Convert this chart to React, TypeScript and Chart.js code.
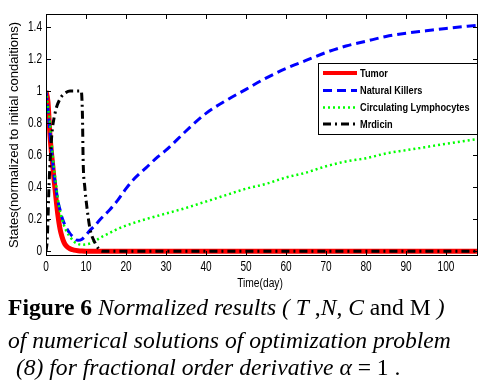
import React, { useEffect, useRef } from "react";
import { Chart, registerables } from "chart.js";

Chart.register(...registerables);

// ---- data ----
const tumorT = [0, 0.5, 1, 1.5, 2, 2.5, 3, 3.5, 4, 4.5, 5, 6, 7, 8, 9, 10, 108];
const tumorV = [1, 0.93, 0.72, 0.58, 0.45, 0.33, 0.22, 0.14, 0.09, 0.055, 0.035, 0.015, 0.007, 0.003, 0.001, 0, 0];

const nkT = [0, 0.5, 1, 1.5, 2, 2.5, 3, 3.5, 4, 5, 6, 7, 8, 9, 10, 11, 12, 14, 16, 18, 20, 22, 25, 28, 30, 35, 40, 45, 50, 55, 60, 65, 70, 75, 80, 85, 90, 95, 100, 108];
const nkV = [1, 0.88, 0.74, 0.6, 0.48, 0.39, 0.31, 0.26, 0.21, 0.15, 0.11, 0.085, 0.068, 0.075, 0.1, 0.13, 0.155, 0.21, 0.26, 0.32, 0.39, 0.45, 0.52, 0.59, 0.63, 0.75, 0.86, 0.94, 1.01, 1.08, 1.14, 1.19, 1.24, 1.28, 1.31, 1.34, 1.36, 1.375, 1.39, 1.41];

const clT = [0, 0.5, 1, 1.5, 2, 2.5, 3, 3.5, 4, 5, 6, 7, 8, 9, 10, 11, 12, 14, 16, 18, 20, 25, 30, 35, 40, 45, 50, 55, 60, 65, 70, 75, 80, 85, 90, 95, 100, 108];
const clV = [1, 0.9, 0.8, 0.65, 0.52, 0.42, 0.32, 0.25, 0.2, 0.13, 0.09, 0.06, 0.045, 0.04, 0.042, 0.048, 0.06, 0.09, 0.115, 0.14, 0.16, 0.2, 0.235, 0.27, 0.31, 0.35, 0.39, 0.42, 0.46, 0.49, 0.53, 0.56, 0.58, 0.61, 0.63, 0.65, 0.67, 0.7];

const medT = [0, 0.3, 0.8, 1.4, 2.25, 3.5, 5, 6, 8, 8.8, 9.1, 9.3, 9.7, 10.2, 11, 12.3, 14, 108];
const medV = [0, 0.07, 0.44, 0.71, 0.86, 0.95, 0.99, 1, 1, 1, 0.86, 0.55, 0.4, 0.28, 0.14, 0.05, 0, 0];

const seriesLabels = ["Tumor", "Natural Killers", "Circulating Lymphocytes", "Mrdicin"];
const xTickValues = [0, 10, 20, 30, 40, 50, 60, 70, 80, 90, 100];
const yTickValues = [0, 0.2, 0.4, 0.6, 0.8, 1, 1.2, 1.4];
const xTitle = "Time(day)";
const yTitle = "States(normalized to initial condaitions)";

const SANS = "'Liberation Sans', Arial, sans-serif";

const toPts = (t: number[], v: number[]) => t.map((x, i) => ({ x, y: v[i] }));

const styles = [
  { color: "#ff0000", width: 5, dash: [] as number[] },
  { color: "#0000ff", width: 3, dash: [9, 5] },
  { color: "#00ff00", width: 2.5, dash: [2, 3] },
  { color: "#000000", width: 3, dash: [8, 4, 2, 4] },
];

function scaledText(ctx: any, text: string, x: number, y: number, sx: number, align: string) {
  ctx.save();
  ctx.translate(x, y);
  ctx.scale(sx, 1);
  ctx.textAlign = align;
  ctx.fillText(text, 0, 0);
  ctx.restore();
}

const fmtY = (v: number) => String(Number(v.toFixed(1)));

const boxPlugin = {
  id: "boxTicks",
  afterDatasetsDraw(chart: any) {
    const { ctx, chartArea: a, scales } = chart;
    const x = scales.x;
    const y = scales.y;
    ctx.save();
    ctx.strokeStyle = "#000";
    ctx.lineWidth = 1;
    ctx.setLineDash([]);
    ctx.strokeRect(a.left + 0.5, a.top + 0.5, a.right - a.left - 1, a.bottom - a.top - 1);
    const tl = 5;
    ctx.beginPath();
    xTickValues.forEach((v) => {
      const px = Math.round(x.getPixelForValue(v)) + 0.5;
      ctx.moveTo(px, a.bottom);
      ctx.lineTo(px, a.bottom - tl);
      ctx.moveTo(px, a.top);
      ctx.lineTo(px, a.top + tl);
    });
    yTickValues.forEach((v) => {
      const py = Math.round(y.getPixelForValue(v)) + 0.5;
      ctx.moveTo(a.left, py);
      ctx.lineTo(a.left + tl, py);
      ctx.moveTo(a.right, py);
      ctx.lineTo(a.right - tl, py);
    });
    ctx.stroke();

    // tick labels (narrow, as in the reference)
    ctx.fillStyle = "#000";
    ctx.font = `14px ${SANS}`;
    ctx.textBaseline = "middle";
    xTickValues.forEach((v) => {
      scaledText(ctx, String(v), x.getPixelForValue(v), a.bottom + 11, 0.72, "center");
    });
    yTickValues.forEach((v) => {
      scaledText(ctx, fmtY(v), a.left - 4, y.getPixelForValue(v), 0.72, "right");
    });
    // x title
    ctx.font = `12.5px ${SANS}`;
    scaledText(ctx, xTitle, (a.left + a.right) / 2 - 2, a.bottom + 28, 0.82, "center");
    ctx.restore();
  },
  afterDraw(chart: any) {
    const { ctx, chartArea: a } = chart;
    ctx.save();
    const bx = 318.5, by = 63.5, bw = a.right - 1 - 318, bh = 71;
    ctx.fillStyle = "#fff";
    ctx.fillRect(bx, by, bw, bh);
    ctx.strokeStyle = "#000";
    ctx.lineWidth = 1;
    ctx.setLineDash([]);
    ctx.strokeRect(bx, by, bw, bh);
    const rows = [73, 90.5, 107.5, 124];
    seriesLabels.forEach((lab, i) => {
      const s = styles[i];
      ctx.strokeStyle = s.color;
      ctx.lineWidth = s.width === 5 ? 4 : s.width;
      ctx.setLineDash(s.dash);
      ctx.beginPath();
      ctx.moveTo(323, rows[i]);
      ctx.lineTo(357, rows[i]);
      ctx.stroke();
      ctx.setLineDash([]);
      ctx.fillStyle = "#000";
      ctx.font = `bold 11.5px ${SANS}`;
      ctx.textBaseline = "middle";
      scaledText(ctx, lab, 360, rows[i] + 0.5, 0.8, "left");
    });
    ctx.restore();
  },
};

export default function App() {
  const ref = useRef<HTMLCanvasElement | null>(null);

  useEffect(() => {
    if (!ref.current) return;
    const data = [toPts(tumorT, tumorV), toPts(nkT, nkV), toPts(clT, clV), toPts(medT, medV)];
    const chart = new Chart(ref.current, {
      type: "line",
      data: {
        datasets: data.map((d, i) => ({
          label: seriesLabels[i],
          data: d,
          borderColor: styles[i].color,
          borderWidth: styles[i].width,
          borderDash: styles[i].dash,
          pointRadius: 0,
          fill: false,
          cubicInterpolationMode: "monotone" as const,
          order: 3 - i,
        })),
      },
      options: {
        animation: false,
        responsive: false,
        devicePixelRatio: 1,
        layout: { padding: { left: 0, right: 6, top: 14, bottom: 0 } },
        plugins: { legend: { display: false }, tooltip: { enabled: false } },
        scales: {
          x: {
            type: "linear",
            min: 0,
            max: 108,
            afterBuildTicks: (s: any) => {
              s.ticks = xTickValues.map((value) => ({ value }));
            },
            afterFit: (s: any) => {
              s.height = 44;
            },
            grid: { display: false, drawTicks: false },
            border: { display: false },
            ticks: { display: false },
          },
          y: {
            type: "linear",
            min: -0.03,
            max: 1.48,
            afterBuildTicks: (s: any) => {
              s.ticks = yTickValues.map((value) => ({ value }));
            },
            afterFit: (s: any) => {
              s.width = 46;
            },
            grid: { display: false, drawTicks: false },
            border: { display: false },
            ticks: { display: false },
            title: {
              display: true,
              text: yTitle,
              color: "#000",
              font: { family: SANS, size: 13 },
              padding: { top: 7, bottom: 0 },
            },
          },
        },
      },
      plugins: [boxPlugin],
    });
    return () => chart.destroy();
  }, []);

  const serif = "'Liberation Serif', 'Times New Roman', serif";
  const line: React.CSSProperties = {
    position: "absolute",
    left: 8,
    fontFamily: serif,
    fontSize: 23.6,
    lineHeight: "23px",
    whiteSpace: "pre",
    color: "#000",
  };

  return (
    <div style={{ position: "fixed", left: 0, top: 0, width: 484, height: 391, background: "#fff", overflow: "hidden" }}>
      <canvas ref={ref} width={484} height={300} style={{ display: "block", width: 484, height: 300 }} />
      <div style={{ ...line, top: 296 }}>
        <b>Figure 6</b> <i>Normalized results ( T</i> ,<i>N</i>, <i>C</i> and M <i>)</i>
      </div>
      <div style={{ ...line, top: 329, fontStyle: "italic" }}>of numerical solutions of optimization problem</div>
      <div style={{ ...line, top: 356, left: 10 }}>
        <i> (8) for fractional order derivative α</i> = 1 .
      </div>
    </div>
  );
}
